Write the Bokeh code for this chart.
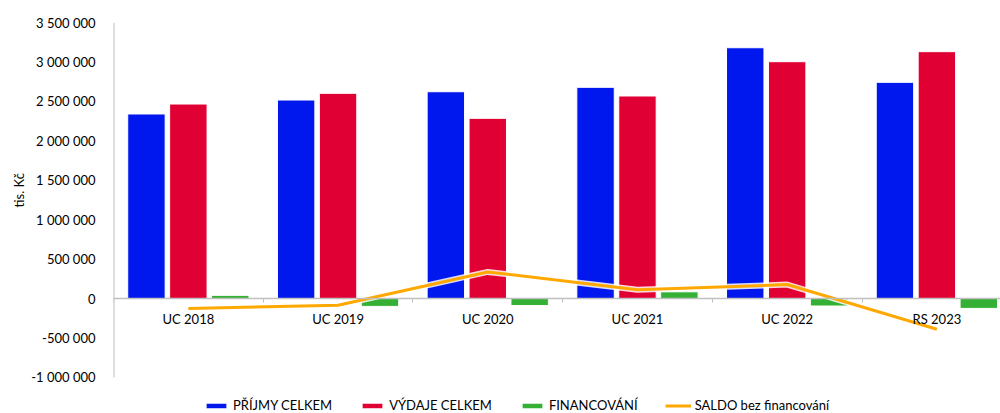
from bokeh.plotting import figure
from bokeh.models import (ColumnDataSource, Range1d, FixedTicker, LinearAxis, Grid, Title,
                          CustomJSTickFormatter, Legend, LegendItem)
from bokeh.transform import dodge
from bokeh.embed import file_html
from bokeh.resources import INLINE

# ---------------- data ----------------
categories = ["UC 2018", "UC 2019", "UC 2020", "UC 2021", "UC 2022", "RS 2023"]
prijmy = [2340000, 2517000, 2622000, 2678000, 3180000, 2741000]
vydaje = [2466000, 2602000, 2285000, 2568000, 3003000, 3130000]
financovani = [40000, -100000, -90000, 85000, -95000, -125000]
saldo = [-126000, -85000, 337000, 110000, 177000, -389000]
y_ticks = [-1000000, -500000, 0, 500000, 1000000, 1500000, 2000000, 2500000, 3000000, 3500000]
series_names = ["PŘÍJMY CELKEM", "VÝDAJE CELKEM", "FINANCOVÁNÍ", "SALDO bez financování"]
y_title = "tis. Kč"

FONT = "Lato"
BLUE = "#0018EE"
RED = "#E00034"
GREEN = "#34B034"
ORANGE = "#FFA800"
AXIS = "#BFBFBF"

xc = [i + 0.5 for i in range(len(categories))]
src = ColumnDataSource(dict(xc=xc, prijmy=prijmy, vydaje=vydaje,
                            financovani=financovani, saldo=saldo))

# frame extends down to the legend row; y axis line drawn only over tick span
p = figure(width=1000, height=413, output_backend="svg", toolbar_location=None,
           x_range=Range1d(0, 5.925), y_range=Range1d(-1458000, 3500000),
           x_axis_location=None, y_axis_location=None,
           min_border_left=113, min_border_right=0, min_border_top=22,
           min_border_bottom=0, outline_line_color=None,
           background_fill_color="white", border_fill_color="white")
p.center = [c for c in p.center if not isinstance(c, Grid)]

# y axis
yaxis = LinearAxis(
    ticker=FixedTicker(ticks=y_ticks, minor_ticks=[]),
    formatter=CustomJSTickFormatter(
        code="return Math.round(tick).toString().replace(/\\B(?=(\\d{3})+(?!\\d))/g, ' ')"),
    major_label_text_font=FONT, major_label_text_font_size="13px",
    major_label_text_color="#000000", major_label_standoff=18,
    major_tick_out=0, major_tick_in=0, minor_tick_out=0, minor_tick_in=0,
    axis_line_color=None)
p.add_layout(yaxis, "left")
p.add_layout(Title(text=y_title, align="left", offset=206, text_font=FONT,
                   text_font_size="13px", text_font_style="normal",
                   text_color="#000000", standoff=4), "left")

# y axis line over the tick span
p.segment(x0=[0], x1=[0], y0=[min(y_ticks)], y1=[max(y_ticks)],
          line_color=AXIS, line_width=2)

# bars
w = 0.25
r_p = p.vbar(x=dodge("xc", -0.28, range=p.x_range), top="prijmy", bottom=0, width=w,
             source=src, fill_color=BLUE, line_color="white", line_width=1)
r_v = p.vbar(x=dodge("xc", 0.0, range=p.x_range), top="vydaje", bottom=0, width=w,
             source=src, fill_color=RED, line_color="white", line_width=1)
r_f = p.vbar(x=dodge("xc", 0.28, range=p.x_range), top="financovani", bottom=0, width=w,
             source=src, fill_color=GREEN, line_color="white", line_width=1)

# x axis at zero
xaxis = LinearAxis(
    ticker=FixedTicker(ticks=xc, minor_ticks=list(range(0, len(categories) + 1))),
    formatter=CustomJSTickFormatter(args=dict(labels=categories),
                                    code="return labels[Math.floor(tick)] || ''"),
    fixed_location=0,
    major_label_text_font=FONT, major_label_text_font_size="13px",
    major_label_text_color="#000000", major_label_standoff=8,
    major_tick_out=0, major_tick_in=0, minor_tick_out=4, minor_tick_in=0,
    minor_tick_line_color=AXIS,
    axis_line_color=AXIS, axis_line_width=1.5)
p.add_layout(xaxis, "below")

# saldo line with white halo
p.line(x="xc", y="saldo", source=src, line_color="white", line_width=6, line_alpha=0.85)
r_s = p.line(x="xc", y="saldo", source=src, line_color=ORANGE, line_width=3)

legend = Legend(items=[LegendItem(label=series_names[0], renderers=[r_p]),
                       LegendItem(label=series_names[1], renderers=[r_v]),
                       LegendItem(label=series_names[2], renderers=[r_f]),
                       LegendItem(label=series_names[3], renderers=[r_s])],
                orientation="horizontal", location=(90, 0),
                glyph_width=26, glyph_height=7, label_standoff=4, spacing=27,
                padding=0, margin=0, label_height=14,
                label_text_font=FONT, label_text_font_size="13px",
                label_text_color="#000000",
                border_line_color=None, background_fill_alpha=0)
p.add_layout(legend, "center")

open("out.html", "w").write(file_html(p, INLINE))
